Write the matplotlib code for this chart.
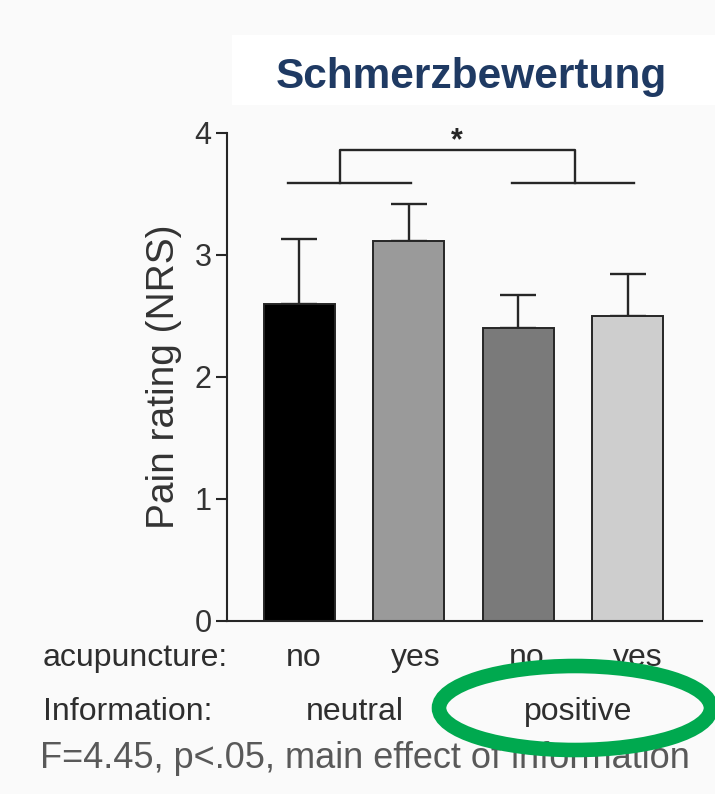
import matplotlib
matplotlib.use("Agg")
import matplotlib.pyplot as plt
import numpy as np
from matplotlib.patches import Ellipse, Rectangle

plt.rcParams['font.family'] = ['Liberation Sans', 'DejaVu Sans']

# data
acupuncture = ["no", "yes", "no", "yes"]
information = ["neutral", "positive"]
pain_mean = [2.60, 3.11, 2.40, 2.50]
pain_err = [0.53, 0.31, 0.27, 0.34]
bar_colors = ["#000000", "#9a9a9a", "#7a7a7a", "#cecece"]
y_ticks = [0, 1, 2, 3, 4]

W, H = 715, 794
fig = plt.figure(figsize=(W / 100, H / 100), dpi=100, facecolor="#fafafa")

# white panel behind the title
fig.add_artist(Rectangle((232 / W, 1 - 105 / H), (W - 232) / W, 70 / H,
                         transform=fig.transFigure, facecolor="white",
                         edgecolor="none", zorder=0))
fig.text(471 / W, 1 - 88 / H, "Schmerzbewertung", ha="center", va="baseline",
         fontsize=30.5, fontweight="bold", color="#1f3a63")

ax = fig.add_axes([227 / W, 1 - 620.5 / H, (702 - 227) / W, 487.5 / H])
ax.patch.set_alpha(0)

x = np.arange(len(pain_mean))
ax.bar(x, pain_mean, width=0.65, color=bar_colors, edgecolor="#262626",
       linewidth=1.4, zorder=2)
ax.errorbar(x, pain_mean, yerr=[np.zeros(len(pain_err)), pain_err], fmt="none",
            ecolor="#262626", elinewidth=1.7, capsize=13, capthick=1.7, zorder=1)

ax.set_xlim(-0.66, 3.68)
ax.set_ylim(0, 4)
ax.set_yticks(y_ticks)
ax.set_xticks([])
for s in ["top", "right"]:
    ax.spines[s].set_visible(False)
for s in ["left", "bottom"]:
    ax.spines[s].set_linewidth(1.5)
    ax.spines[s].set_color("#262626")
ax.tick_params(axis="y", length=8, width=1.5, color="#262626", labelsize=22,
               labelcolor="#333333", pad=3)
ax.set_ylabel("Pain rating (NRS)", fontsize=28, color="#333333", labelpad=9)

# significance bracket
lk = dict(color="#262626", lw=1.7, clip_on=False)
ax.plot([-0.105, 1.02], [3.59, 3.59], **lk)
ax.plot([1.94, 3.06], [3.59, 3.59], **lk)
ax.plot([0.37, 0.37, 2.52, 2.52], [3.59, 3.86, 3.86, 3.59], **lk)
ax.text(1.44, 3.93, "*", ha="center", va="center", fontsize=22,
        fontweight="bold", color="#262626", clip_on=False)

# condition labels below the axis
txt = dict(fontsize=23, color="#2e2e2e", va="baseline")
fig.text(43 / W, 1 - 666 / H, "acupuncture:", ha="left", **txt)
for px, lab in zip([304, 416, 527, 638], acupuncture):
    fig.text(px / W, 1 - 666 / H, lab, ha="center", **txt)
fig.text(43 / W, 1 - 720 / H, "Information:", ha="left", **txt)
for px, lab in zip([355, 578], information):
    fig.text(px / W, 1 - 720 / H, lab, ha="center", **txt)

fig.add_artist(Ellipse((575 / W, 1 - 708 / H), 272 / W, 84 / H,
                       transform=fig.transFigure, fill=False,
                       edgecolor="#00a94f", linewidth=10.5, zorder=5))

fig.text(365 / W, 1 - 768 / H, "F=4.45, p<.05, main effect of information",
         ha="center", va="baseline", fontsize=26, color="#595959")

fig.savefig("out.png", dpi=100, facecolor=fig.get_facecolor())
